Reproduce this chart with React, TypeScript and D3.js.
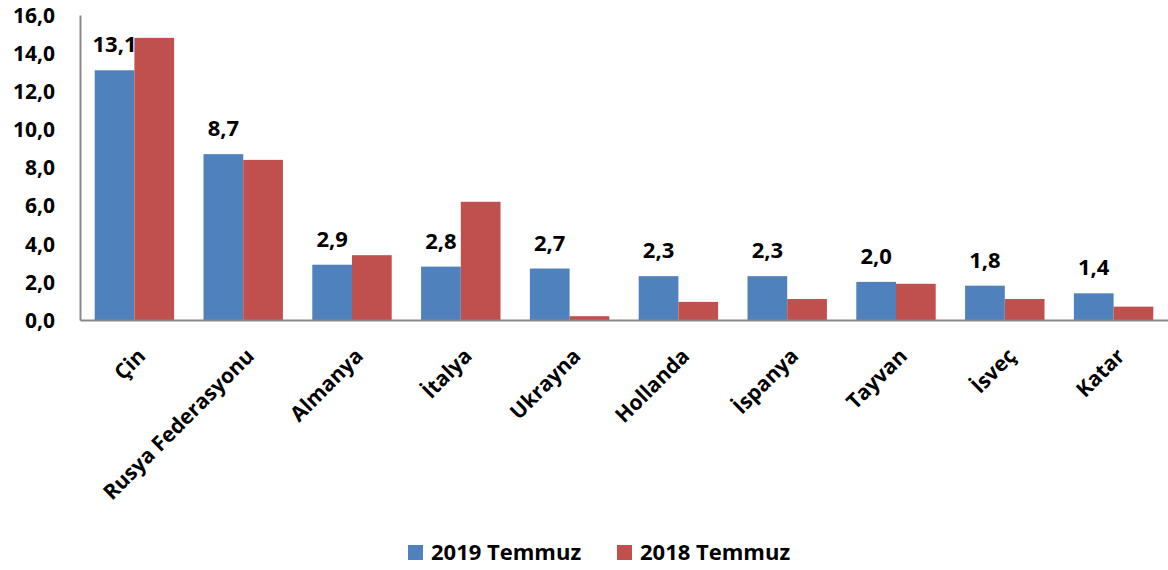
import { useEffect, useRef } from "react";
import * as d3 from "d3";

const countries = ["Çin", "Rusya Federasyonu", "Almanya", "İtalya", "Ukrayna", "Hollanda", "İspanya", "Tayvan", "İsveç", "Katar"];
const values2019 = [13.1, 8.7, 2.9, 2.8, 2.7, 2.3, 2.3, 2.0, 1.8, 1.4];
const values2018 = [14.8, 8.4, 3.4, 6.2, 0.2, 0.95, 1.1, 1.9, 1.1, 0.7];
const yTicks = [0, 2, 4, 6, 8, 10, 12, 14, 16];
const seriesNames = ["2019 Temmuz", "2018 Temmuz"];
const colors = ["#4F81BD", "#C0504D"];

const W = 1168;
const H = 570;
const FONT = "'Open Sans', sans-serif";

export default function App() {
    const ref = useRef<SVGSVGElement>(null);
    useEffect(() => {
        if (!ref.current) return;
        const svg = d3.select(ref.current);
        svg.selectAll("*").remove();

        const margin = { top: 15, right: 0, bottom: 250, left: 80 };
        const width = W - margin.left - margin.right;
        const height = H - margin.top - margin.bottom;

        const x = d3.scaleBand().domain(countries).range([0, width]).paddingInner(0.27).paddingOuter(0.135);
        const y = d3.scaleLinear().domain([0, 16]).range([height, 0]);

        const g = svg.append("g").attr("transform", `translate(${margin.left},${margin.top})`);
        const bw = x.bandwidth() / 2;

        const series = [values2019, values2018];
        series.forEach((vals, si) => {
            g.selectAll(`.bar${si}`)
                .data(countries)
                .enter()
                .append("rect")
                .attr("x", (d) => (x(d) as number) + si * bw)
                .attr("y", (d, i) => y(vals[i]))
                .attr("width", bw)
                .attr("height", (d, i) => height - y(vals[i]))
                .attr("fill", colors[si]);
        });

        // value labels on 2019 bars
        g.selectAll(".lbl")
            .data(countries)
            .enter()
            .append("text")
            .attr("x", (d) => (x(d) as number) + bw / 2)
            .attr("y", (d, i) => y(values2019[i]) - 18)
            .attr("text-anchor", "middle")
            .attr("font-family", FONT)
            .attr("font-weight", "bold")
            .attr("font-size", 22)
            .attr("fill", "#000")
            .text((d, i) => values2019[i].toFixed(1).replace(".", ","));

        // y axis
        const yAxis = d3.axisLeft(y).tickValues(yTicks).tickSize(0).tickPadding(25)
            .tickFormat((d) => (d as number).toFixed(1).replace(".", ","));
        const ya = g.append("g").call(yAxis);
        ya.selectAll("text").attr("font-family", FONT).attr("font-weight", "bold").attr("font-size", 21).attr("fill", "#000").attr("dy", "0.35em");
        ya.select(".domain").attr("stroke", "#888").attr("stroke-width", 2);

        // x axis
        const xAxis = d3.axisBottom(x).tickSize(0).tickPadding(0);
        const xa = g.append("g").attr("transform", `translate(0,${height})`).call(xAxis);
        xa.select(".domain").attr("stroke", "#888").attr("stroke-width", 2);
        xa.selectAll("text")
            .attr("font-family", FONT)
            .attr("font-weight", "bold")
            .attr("font-size", 21)
            .attr("fill", "#000")
            .attr("text-anchor", "end")
            .attr("transform", "translate(2,27) rotate(-45)")
            .attr("dy", "0.7em");

        // legend
        const lg = svg.append("g").attr("transform", `translate(408,552)`);
        const offsets = [0, 209];
        seriesNames.forEach((name, i) => {
            lg.append("rect").attr("x", offsets[i]).attr("y", -7).attr("width", 15).attr("height", 15).attr("fill", colors[i]);
            lg.append("text")
                .attr("x", offsets[i] + 23)
                .attr("y", 0)
                .attr("dy", "0.35em")
                .attr("font-family", FONT)
                .attr("font-weight", "bold")
                .attr("font-size", 22)
                .attr("fill", "#000")
                .text(name);
        });
    }, []);

    return (
        <svg ref={ref} width={W} height={H} style={{ position: "absolute", left: 0, top: 0, background: "#fff" }}></svg>
    );
}
